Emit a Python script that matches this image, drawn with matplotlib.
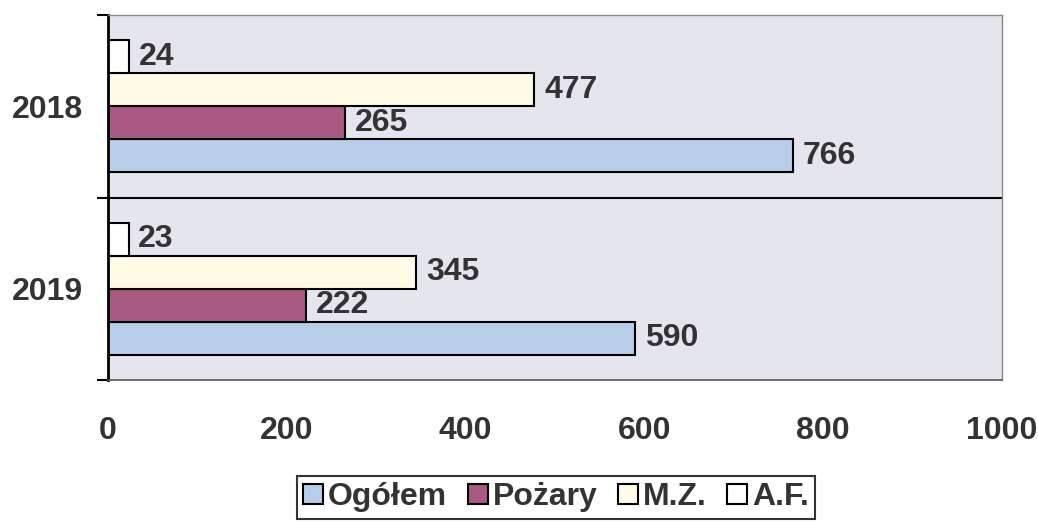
import numpy as np
import matplotlib
matplotlib.use("Agg")
import matplotlib.pyplot as plt

years = ["2018", "2019"]
series_names = ["Ogółem", "Pożary", "M.Z.", "A.F."]
ogolem = [766, 590]
pozary = [265, 222]
mz = [477, 345]
af = [24, 23]
xticks = [0, 200, 400, 600, 800, 1000]

plt.rcParams['font.family'] = ['Liberation Sans', 'DejaVu Sans']
plt.rcParams['font.weight'] = 'bold'

colors = ["#b7cdea", "#a85a82", "#fffbe6", "#ffffff"]
txt = "#333333"
fs = 23

fig = plt.figure(figsize=(10.38, 5.22), dpi=100)
ax = fig.add_axes([108/1038, 142/522, (1002-108)/1038, (380-15)/522])
ax.set_facecolor("#e5e5ed")

h = 0.181
y = np.arange(len(years))
# drawn bottom->top within a group: Ogółem lowest, A.F. top
offsets = [1.5*h, 0.5*h, -0.5*h, -1.5*h]
data = [ogolem, pozary, mz, af]
handles = []
for vals, off, c, name in zip(data, offsets, colors, series_names):
  bars = ax.barh(y + off, vals, h, color=c, edgecolor="black", linewidth=1.5, label=name)
  handles.append(bars)
  for yy, v in zip(y + off, vals):
    ax.annotate(str(v), (v, yy), xytext=(7, 0), textcoords="offset points",
                ha="left", va="center", fontsize=fs, fontweight="bold", color=txt)

ax.set_xlim(0, 1000)
ax.set_ylim(1.5, -0.5)
ax.set_xticks(xticks)
ax.set_xticklabels([str(t) for t in xticks], fontsize=fs, fontweight="bold", color=txt)
ax.tick_params(axis="x", length=0, pad=26)

ax.set_yticks([-0.5, 0.5, 1.5])
ax.set_yticklabels([])
ax.set_yticks(y, minor=True)
ax.set_yticklabels(years, minor=True, fontsize=fs, fontweight="bold", color=txt)
ax.tick_params(axis="y", which="major", length=8, width=1.5, direction="out")
ax.tick_params(axis="y", which="minor", length=0, pad=18)
ax.axhline(0.5, color="black", linewidth=1.5)

ax.spines["left"].set_linewidth(2)
ax.spines["left"].set_color("black")
ax.spines["bottom"].set_color("#555555")
ax.spines["bottom"].set_linewidth(1.2)
for s in ["top", "right"]:
  ax.spines[s].set_color("#888888")
  ax.spines[s].set_linewidth(1)

leg = fig.legend(handles, series_names, loc="upper center", bbox_to_anchor=(556/1038, 1 - 476/522),
                 ncol=4, fontsize=fs, frameon=True, fancybox=False, edgecolor="black",
                 handlelength=0.62, handleheight=0.58, handletextpad=0.15, columnspacing=0.65,
                 borderpad=0.2, borderaxespad=0)
leg.get_frame().set_linewidth(1.5)
for t in leg.get_texts():
  t.set_color(txt)

fig.savefig("out.png", dpi=100)
